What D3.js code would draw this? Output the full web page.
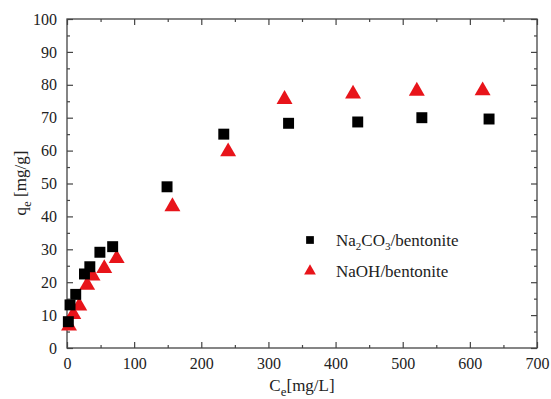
<!DOCTYPE html>
<html><head><meta charset="utf-8">
<script src="https://cdn.jsdelivr.net/npm/d3@7"></script>
<style>
svg text, svg tspan { font-family: 'Liberation Serif', 'Times New Roman', serif !important; }
</style>
</head><body style="margin:0">
<svg id="c" width="551" height="399"></svg>
<script>
const seriesNames = ["Na2CO3/bentonite", "NaOH/bentonite"];
const na2co3X = [2, 4.5, 13, 26, 34, 49, 68, 149, 233.5, 330, 433, 528.5, 628.6];
const na2co3Y = [8, 13.1, 16.3, 22.5, 24.7, 29.1, 30.8, 49, 65, 68.3, 68.7, 70, 69.6];
const naohX = [3, 9.4, 18.3, 30, 38, 55.5, 74, 157, 240, 324, 426, 521, 619];
const naohY = [6.7, 10.2, 12.8, 19.1, 21.9, 24.2, 27.2, 43, 59.7, 75.6, 77.2, 78.1, 78.2];
const xTicks = [0,100,200,300,400,500,600,700];
const yTicks = [0,10,20,30,40,50,60,70,80,90,100];

const svg = d3.select("#c");
const L=67, R=537, T=19, B=348;
const x = d3.scaleLinear().domain([0,700]).range([L,R]);
const y = d3.scaleLinear().domain([0,100]).range([B,T]);
const axCol="#444";
const SERIF = "Liberation Serif";

function styleAxis(g){
  g.attr("font-family", SERIF).attr("font-size", 16);
  g.select(".domain").remove();
  g.selectAll("line").attr("stroke",axCol).attr("stroke-width",1.2);
  g.selectAll("text").attr("fill","#222").attr("font-family", SERIF);
}
const xMinor = d3.range(50,700,100), yMinor = d3.range(5,100,10);
svg.append("g").attr("transform",`translate(0,${B})`).call(d3.axisBottom(x).tickValues(xTicks).tickSizeInner(-6).tickSizeOuter(0).tickPadding(10)).call(styleAxis);
svg.append("g").attr("transform",`translate(0,${B})`).call(d3.axisBottom(x).tickValues(xMinor).tickSizeInner(-3).tickSizeOuter(0).tickFormat("")).call(styleAxis);
svg.append("g").attr("transform",`translate(0,${T})`).call(d3.axisTop(x).tickValues(xTicks).tickSizeInner(-6).tickSizeOuter(0).tickFormat("")).call(styleAxis);
svg.append("g").attr("transform",`translate(0,${T})`).call(d3.axisTop(x).tickValues(xMinor).tickSizeInner(-3).tickSizeOuter(0).tickFormat("")).call(styleAxis);
svg.append("g").attr("transform",`translate(${L},0)`).call(d3.axisLeft(y).tickValues(yTicks).tickSizeInner(-6).tickSizeOuter(0).tickPadding(10)).call(styleAxis);
svg.append("g").attr("transform",`translate(${L},0)`).call(d3.axisLeft(y).tickValues(yMinor).tickSizeInner(-3).tickSizeOuter(0).tickFormat("")).call(styleAxis);
svg.append("g").attr("transform",`translate(${R},0)`).call(d3.axisRight(y).tickValues(yTicks).tickSizeInner(-6).tickSizeOuter(0).tickFormat("")).call(styleAxis);
svg.append("g").attr("transform",`translate(${R},0)`).call(d3.axisRight(y).tickValues(yMinor).tickSizeInner(-3).tickSizeOuter(0).tickFormat("")).call(styleAxis);
svg.append("rect").attr("x",L).attr("y",T).attr("width",R-L).attr("height",B-T).attr("fill","none").attr("stroke",axCol).attr("stroke-width",1.3);

const sq = d3.symbol().type(d3.symbolSquare).size(120);
const tri = d3.symbol().type(d3.symbolTriangle).size(110);
svg.append("g").selectAll("path").data(naohX.map((v,i)=>[v,naohY[i]])).join("path")
 .attr("d",tri).attr("fill","#e8141a").attr("transform",d=>`translate(${x(d[0])},${y(d[1])})`);
svg.append("g").selectAll("path").data(na2co3X.map((v,i)=>[v,na2co3Y[i]])).join("path")
 .attr("d",sq).attr("fill","#000").attr("transform",d=>`translate(${x(d[0])},${y(d[1])})`);

svg.append("path").attr("d",d3.symbol().type(d3.symbolSquare).size(60)).attr("fill","#000").attr("transform","translate(310,240)");
svg.append("path").attr("d",d3.symbol().type(d3.symbolTriangle).size(60)).attr("fill","#e8141a").attr("transform","translate(310,271)");
const t1=svg.append("text").attr("x",336).attr("y",246).attr("font-family",SERIF).attr("font-size",17).attr("fill","#222");
t1.append("tspan").text("Na");
t1.append("tspan").attr("font-size",11).attr("dy",4).text("2");
t1.append("tspan").attr("dy",-4).text("CO");
t1.append("tspan").attr("font-size",11).attr("dy",4).text("3");
t1.append("tspan").attr("dy",-4).text("/bentonite");
svg.append("text").attr("x",336).attr("y",277).attr("font-family",SERIF).attr("font-size",17).attr("fill","#222").text(seriesNames[1]);

const yt=svg.append("text").attr("transform","translate(26,183) rotate(-90)").attr("text-anchor","middle").attr("font-family",SERIF).attr("font-size",17).attr("fill","#222");
yt.append("tspan").text("q");
yt.append("tspan").attr("font-size",13).attr("dy",5).text("e");
yt.append("tspan").attr("dy",-5).text(" [mg/g]");
const xt=svg.append("text").attr("x",302).attr("y",391).attr("text-anchor","middle").attr("font-family",SERIF).attr("font-size",17).attr("fill","#222");
xt.append("tspan").text("C");
xt.append("tspan").attr("font-size",13).attr("dy",5).text("e");
xt.append("tspan").attr("dy",-5).text("[mg/L]");
</script></body></html>
